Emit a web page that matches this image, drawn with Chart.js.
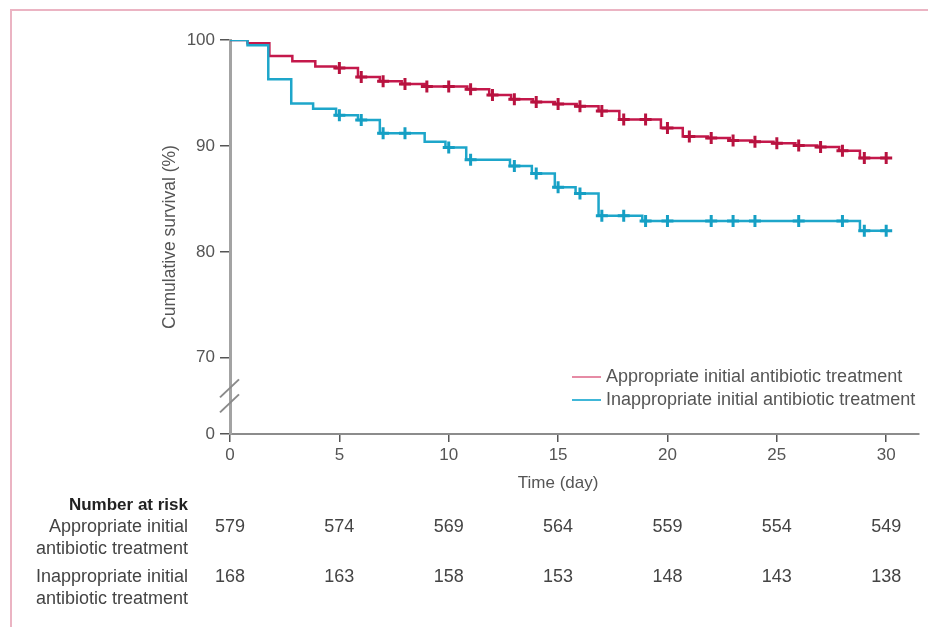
<!DOCTYPE html>
<html>
<head>
<meta charset="utf-8">
<script src="https://cdn.jsdelivr.net/npm/chart.js@4.4.1/dist/chart.umd.min.js"></script>
<style>
  html, body { margin: 0; padding: 0; background: #fff; }
  #wrap { position: relative; width: 928px; height: 627px; }
  #frame { position: absolute; left: 10px; top: 9px; right: 0; bottom: 0;
           border-left: 2px solid #ebb4c3; border-top: 2px solid #ebb4c3; pointer-events: none; }
</style>
</head>
<body>
<div id="wrap">
  <canvas id="kmChart" width="928" height="627"></canvas>
  <div id="frame"></div>
</div>
<script>
const groupLabels = [
  "Appropriate initial antibiotic treatment",
  "Inappropriate initial antibiotic treatment",
];
const riskRowLabels = [
  ["Appropriate initial", "antibiotic treatment"],
  ["Inappropriate initial", "antibiotic treatment"],
];

// Kaplan-Meier steps: time (day) where the curve drops, survival (%) after it
const apprTimes = [0, 0.8, 1.8, 2.85, 3.9, 4.85, 5.85, 6.85, 7.85, 8.9, 10.85, 11.85, 12.85, 13.85, 14.85,
  15.85, 16.85, 17.8, 19.7, 20.7, 21.85, 22.85, 23.85, 24.85, 25.85, 26.85, 27.85, 28.8, 30];
const apprSurv = [100, 99.7, 98.5, 98.0, 97.5, 97.35, 96.5, 96.1, 95.85, 95.6, 95.35, 94.8, 94.4, 94.15, 93.95,
  93.75, 93.3, 92.5, 91.7, 90.9, 90.75, 90.5, 90.4, 90.25, 90.05, 89.9, 89.55, 88.85, 88.85];
const apprCensor = [5, 6, 7, 8, 9, 10, 11, 12, 13, 14, 15, 16, 17, 18, 19, 20, 21, 22, 23, 24, 25, 26, 27, 28, 29, 30];

const inapTimes = [0, 0.8, 1.75, 2.8, 3.8, 4.85, 5.85, 6.85, 8.9, 9.85, 10.8, 12.8, 13.8, 14.85, 15.8,
  16.85, 18.85, 28.8, 30];
const inapSurv = [100, 99.5, 96.3, 94.0, 93.5, 92.9, 92.45, 91.2, 90.4, 89.85, 88.7, 88.1, 87.4, 86.1, 85.5,
  83.4, 82.9, 82.0, 82.0];
const inapCensor = [5, 6, 7, 8, 10, 11, 13, 14, 15, 16, 17, 18, 19, 20, 22, 23, 24, 26, 28, 29, 30];

// number at risk
const riskTimes = [0, 5, 10, 15, 20, 25, 30];
const apprAtRisk = [579, 574, 569, 564, 559, 554, 549];
const inapAtRisk = [168, 163, 158, 153, 148, 143, 138];

const xTicks = [0, 5, 10, 15, 20, 25, 30];
const yTicks = [0, 70, 80, 90, 100];
const yBreakValue = 62.8; // where "0" sits below the axis break

const apprColor = "#c4184b";
const apprLight = "#e68ba5";
const inapColor = "#1ea6ca";
const inapLight = "#40b7d8";
const textColor = "#555";
const fontFamily = "'Liberation Sans', Arial, sans-serif";

function survAt(times, surv, t) {
  let s = surv[0];
  for (let i = 0; i < times.length; i++) {
    if (times[i] <= t) s = surv[i];
  }
  return s;
}

const overlayPlugin = {
  id: "overlay",
  afterDraw(chart) {
    const c = chart.ctx;
    const xs = chart.scales.x;
    const ys = chart.scales.y;
    c.save();

    // axis break
    const bx = chart.chartArea.left;
    const mid = (ys.getPixelForValue(70) + ys.bottom) / 2;
    c.strokeStyle = "#8a8a8a";
    c.lineWidth = 2;
    [-7.5, 7.5].forEach((d) => {
      c.beginPath();
      c.moveTo(bx - 10, mid + d + 9);
      c.lineTo(bx + 9, mid + d - 9);
      c.stroke();
    });

    // x axis title, centred under the 0-30 range
    c.font = "17px " + fontFamily;
    c.fillStyle = textColor;
    c.textAlign = "center";
    c.textBaseline = "middle";
    c.fillText("Time (day)", xs.getPixelForValue(15), 483);

    // legend
    const legend = [
      { text: groupLabels[0], color: apprLight, y: 377 },
      { text: groupLabels[1], color: inapLight, y: 400 },
    ];
    c.font = "18px " + fontFamily;
    c.textAlign = "left";
    legend.forEach((item) => {
      c.strokeStyle = item.color;
      c.lineWidth = 2;
      c.beginPath();
      c.moveTo(572, item.y);
      c.lineTo(601, item.y);
      c.stroke();
      c.fillStyle = textColor;
      c.fillText(item.text, 606, item.y);
    });

    // number at risk table
    c.textAlign = "right";
    c.fillStyle = "#222";
    c.font = "bold 17px " + fontFamily;
    c.fillText("Number at risk", 188, 505);
    c.font = "18px " + fontFamily;
    c.fillStyle = "#444";
    const rows = [
      { lines: riskRowLabels[0], values: apprAtRisk, y: 527 },
      { lines: riskRowLabels[1], values: inapAtRisk, y: 577 },
    ];
    rows.forEach((row) => {
      c.textAlign = "right";
      c.fillText(row.lines[0], 188, row.y);
      c.fillText(row.lines[1], 188, row.y + 22);
      c.textAlign = "center";
      row.values.forEach((v, i) => {
        c.fillText(String(v), xs.getPixelForValue(riskTimes[i]), row.y);
      });
    });
    c.restore();
  },
};

const ctx = document.getElementById("kmChart").getContext("2d");
const kmChart = new Chart(ctx, {
  type: "line",
  data: {
    datasets: [
      {
        label: groupLabels[0],
        data: apprTimes.map((t, i) => ({ x: t, y: apprSurv[i] })),
        borderColor: apprColor,
        borderWidth: 2.5,
        stepped: "before",
        pointRadius: 0,
        fill: false,
        order: 3,
      },
      {
        label: groupLabels[1],
        data: inapTimes.map((t, i) => ({ x: t, y: inapSurv[i] })),
        borderColor: inapColor,
        borderWidth: 2.5,
        stepped: "before",
        pointRadius: 0,
        fill: false,
        order: 2,
      },
      {
        type: "scatter",
        data: apprCensor.map((t) => ({ x: t, y: survAt(apprTimes, apprSurv, t) })),
        pointStyle: "cross",
        pointRadius: 6,
        borderColor: "#b8123f",
        pointBorderWidth: 3,
        showLine: false,
        order: 1,
      },
      {
        type: "scatter",
        data: inapCensor.map((t) => ({ x: t, y: survAt(inapTimes, inapSurv, t) })),
        pointStyle: "cross",
        pointRadius: 6,
        borderColor: "#159fc4",
        pointBorderWidth: 3,
        showLine: false,
        order: 0,
      },
    ],
  },
  options: {
    responsive: false,
    animation: false,
    layout: { padding: { left: 160, top: 40, right: 8, bottom: 133 } },
    plugins: {
      legend: { display: false },
      tooltip: { enabled: false },
    },
    scales: {
      x: {
        type: "linear",
        min: 0,
        max: 31.5,
        afterBuildTicks: (s) => {
          s.ticks = xTicks.map((v) => ({ value: v }));
        },
        afterFit: (s) => {
          s.height = 60;
        },
        border: { display: true, color: "#8c8c8c", width: 2 },
        grid: { drawOnChartArea: false, drawTicks: true, tickLength: 8, color: "#555", lineWidth: 1.5 },
        ticks: { padding: 3, color: textColor, font: { family: fontFamily, size: 17 } },
        title: { display: false },
      },
      y: {
        type: "linear",
        min: yBreakValue,
        max: 100,
        afterBuildTicks: (s) => {
          s.ticks = yTicks.map((v) => ({ value: v === 0 ? yBreakValue : v }));
        },
        afterFit: (s) => {
          s.width = 70;
        },
        border: { display: true, color: "#a3a3a3", width: 3 },
        grid: { drawOnChartArea: false, drawTicks: true, tickLength: 10, color: "#555", lineWidth: 1.5 },
        ticks: {
          padding: 5,
          color: textColor,
          font: { family: fontFamily, size: 17 },
          callback: (v) => (v === yBreakValue ? "0" : v),
        },
        title: {
          display: true,
          text: "Cumulative survival (%)",
          color: textColor,
          font: { family: fontFamily, size: 17.5 },
          padding: { top: 0, bottom: 0 },
        },
      },
    },
  },
  plugins: [overlayPlugin],
});
</script>
</body>
</html>
